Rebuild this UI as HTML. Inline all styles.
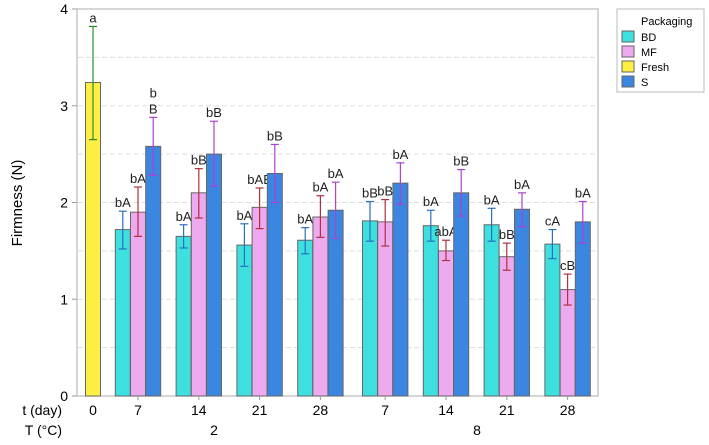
<!DOCTYPE html>
<html><head><meta charset="utf-8"><style>
body{margin:0;background:#fff;font-family:"Liberation Sans",sans-serif}
svg text{font-family:"Liberation Sans",sans-serif}
</style></head><body>
<svg width="709" height="440" id="c">
<rect x="77" y="9" width="521" height="387" fill="#fff" stroke="#bbb" stroke-width="1.2"/>
<text x="22" y="203" font-size="15" text-anchor="middle" transform="rotate(-90 22 203)">Firmness (N)</text>
<text x="62" y="415" font-size="14" text-anchor="end">t (day)</text>
<text x="62" y="435" font-size="14" text-anchor="end">T (°C)</text>
<text x="214" y="435" font-size="14" text-anchor="middle">2</text>
<text x="477" y="435" font-size="14" text-anchor="middle">8</text>
<g>
<rect x="617" y="9" width="87" height="83" fill="#fff" stroke="#bbb"/>
<text x="641" y="25" font-size="11">Packaging</text>
<g><rect x="622" y="31" width="12" height="11" fill="#3ddfdf" stroke="#666"/><text x="641" y="41" font-size="11">BD</text></g>
<g><rect x="622" y="46" width="12" height="11" fill="#eeaaee" stroke="#666"/><text x="641" y="56" font-size="11">MF</text></g>
<g><rect x="622" y="61" width="12" height="11" fill="#ffee44" stroke="#666"/><text x="641" y="71" font-size="11">Fresh</text></g>
<g><rect x="622" y="76" width="12" height="11" fill="#3a86e0" stroke="#666"/><text x="641" y="86" font-size="11">S</text></g>
</g>
</svg>
<script>
const days=["7","14","21","28","7","14","21","28"];
const bdVals=[1.72,1.65,1.56,1.61,1.81,1.76,1.77,1.57];
const bdLo=[1.52,1.53,1.34,1.47,1.60,1.60,1.60,1.42];
const bdHi=[1.91,1.77,1.78,1.74,2.01,1.92,1.94,1.72];
const bdLab=["bA","bA","bA","bA","bB","bA","bA","cA"];
const mfVals=[1.90,2.10,1.95,1.85,1.80,1.50,1.44,1.10];
const mfLo=[1.65,1.84,1.73,1.64,1.55,1.40,1.30,0.94];
const mfHi=[2.16,2.35,2.15,2.07,2.03,1.61,1.58,1.26];
const mfLab=["bA","bB","bAB","bA","bB","abA","bB","cB"];
const sVals=[2.58,2.50,2.30,1.92,2.20,2.10,1.93,1.80];
const sLo=[2.28,2.17,2.00,1.63,1.98,1.86,1.75,1.58];
const sHi=[2.88,2.84,2.60,2.21,2.41,2.34,2.10,2.01];
const sLab=["b B","bB","bB","bA","bA","bB","bA","bA"];
const freshVal=[3.24],freshLo=[2.65],freshHi=[3.82],freshLab=["a"];
const yTicks=[0,1,2,3,4];
const svg=document.getElementById('c');const NS="http://www.w3.org/2000/svg";
const y=v=>396-v*96.75;
const gx=i=>138+i*60.8+(i>=4?4:0);
function mk(t,a,p){const e=document.createElementNS(NS,t);for(const k in a)e.setAttribute(k,a[k]);(p||svg).appendChild(e);return e;}
for(let v=0.5;v<4;v+=0.5){if(v%1===0&&false)continue;const l=mk('line',{x1:78,x2:597,y1:y(v),y2:y(v),stroke:'#ddd','stroke-dasharray':'5,3'});

}
yTicks.forEach(v=>{const t=mk('text',{x:68,y:y(v)+5,'font-size':14,'text-anchor':'end'});t.textContent=v;


mk('line',{x1:72,x2:77,y1:y(v),y2:y(v),stroke:'#999'});});
function bar(cx,v,lo,hi,lab,fill,ec,name){
const g=mk('g',{});


mk('rect',{x:cx-7.5,y:y(v),width:15,height:396-y(v),fill:fill,stroke:'#666','stroke-width':1},g);
mk('line',{x1:cx,x2:cx,y1:y(lo),y2:y(hi),stroke:ec,'stroke-width':1.2},g);
[lo,hi].forEach(q=>mk('line',{x1:cx-4,x2:cx+4,y1:y(q),y2:y(q),stroke:ec,'stroke-width':1.2},g));
const parts=lab.split(' ');
parts.forEach((p,k)=>{const t=mk('text',{x:cx,y:y(hi)-4-(parts.length-1-k)*16,'font-size':13,'text-anchor':'middle',fill:'#222'},g);t.textContent=p;});
}
bar(93,freshVal[0],freshLo[0],freshHi[0],freshLab[0],'#ffee44','#2a8a2a','bar-fresh');
const xt=mk('text',{x:93,y:415,'font-size':14,'text-anchor':'middle'});xt.textContent='0';
for(let i=0;i<days.length;i++){const c=gx(i);
bar(c-15.2,bdVals[i],bdLo[i],bdHi[i],bdLab[i],'#3ddfdf','#2a6fc0','bar-bd-'+i);
bar(c,mfVals[i],mfLo[i],mfHi[i],mfLab[i],'#eeaaee','#b03040','bar-mf-'+i);
bar(c+15.2,sVals[i],sLo[i],sHi[i],sLab[i],'#3a86e0','#b040d0','bar-s-'+i);
const t=mk('text',{x:c,y:415,'font-size':14,'text-anchor':'middle'});t.textContent=days[i];


mk('line',{x1:c,x2:c,y1:396,y2:400,stroke:'#999'});}
</script>
</body></html>
